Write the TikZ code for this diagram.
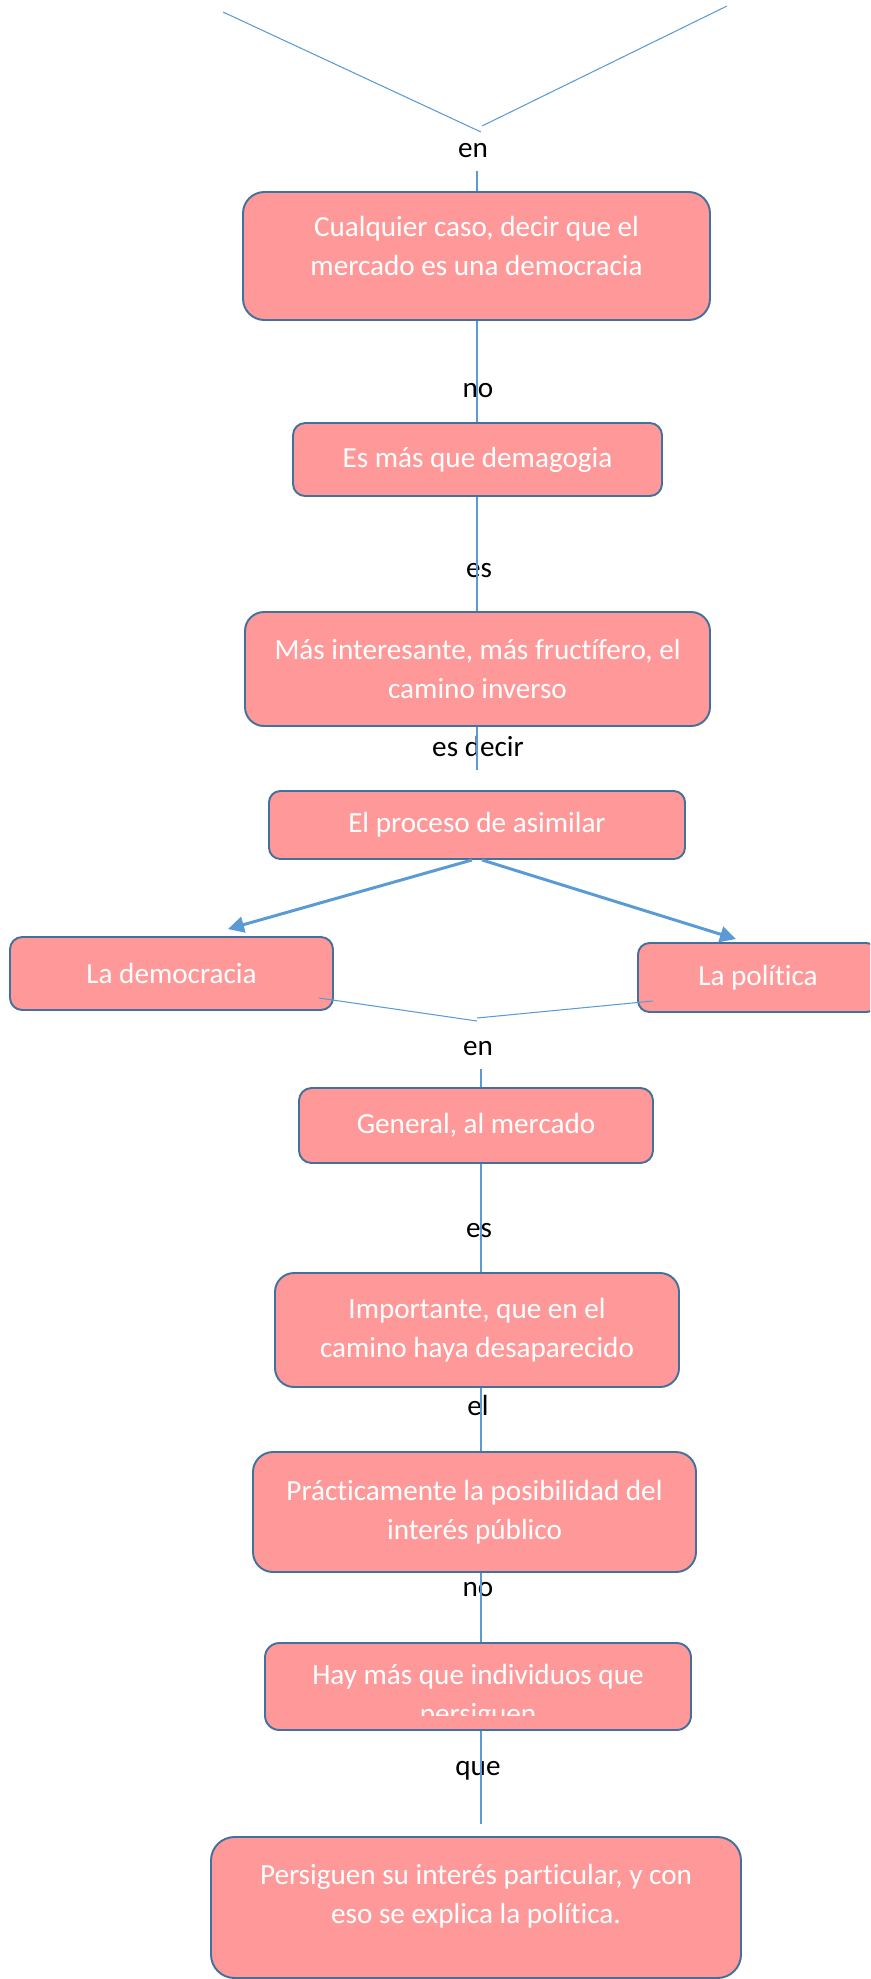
\documentclass[tikz,border=0pt]{standalone}
\usepackage{fontspec}
\setmainfont{Carlito}[Ligatures=CommonOff]
\usetikzlibrary{arrows.meta}
\definecolor{boxfill}{HTML}{FF9999}
\definecolor{boxline}{HTML}{41719C}
\definecolor{linkblue}{HTML}{5B9BD5}
\tikzset{
  box/.style 2 args={draw=boxline, line width=1.1pt, fill=boxfill, text=white,
    align=center, inner sep=0pt, minimum width=#1*0.02cm, minimum height=#2*0.02cm,
    rounded corners=#2*0.02cm/6},
  lbl/.style={anchor=base, text=black, inner xsep=0pt, inner ysep=0.28cm, text depth=0pt},
  link/.style={draw=linkblue, line width=0.6pt},
  arrowlink/.style={draw=linkblue, line width=1.7pt, -{Triangle[length=0.32cm, width=0.32cm]}}
}
\begin{document}
\begin{tikzpicture}[x=0.02cm,y=-0.02cm,font=\fontsize{16.6}{22.2}\selectfont]
\useasboundingbox (0,0) rectangle (870,1979);
\clip (0,0) rectangle (870,1979);

\coordinate (axU) at (477,0);
\coordinate (axL) at (481,0);

\coordinate (vl) at (223,12);
\coordinate (vm) at (481,132);
\coordinate (vm2) at (482,126);
\coordinate (vr) at (727,6);
\coordinate (wl) at (319,998);
\coordinate (wm) at (477,1021);
\coordinate (wm2) at (477,1018);
\coordinate (wr) at (653,1001);

\node[box={467}{128}, text depth=0.4cm] (cualquier) at (476.5,256) {Cualquier caso, decir que el\\mercado es una democracia};
\node[box={369}{73}] (esmas) at (477.5,459.5) {Es más que demagogia};
\node[box={465}{114}] (masint) at (477.5,669) {Más interesante, más fructífero, el\\camino inverso};
\node[box={416}{68}] (proceso) at (477,825) {El proceso de asimilar};
\node[box={323}{73}] (dem) at (171.5,973.5) {La democracia};
\node[box={240}{69}] (pol) at (758,977.5) {La política};
\node[box={354}{75}] (general) at (476,1125.5) {General, al mercado};
\node[box={404}{114}] (importante) at (477,1330) {Importante, que en el\\camino haya desaparecido};
\node[box={443}{120}] (practic) at (474.5,1512) {Prácticamente la posibilidad del\\interés público};
\node[box={426}{87}] (hay) at (478,1686.5) {};
\node[box={530}{141}, text depth=0.54cm] (persig) at (476,1907.5) {Persiguen su interés particular, y con\\eso se explica la política.};

% text runs out of the box
\begin{scope}
\clip (265,1643) rectangle (691,1715);
\node[text=white, align=center] (hay-t) at (478,1696) {Hay más que individuos que\\persiguen};
\end{scope}

\node[lbl] (en1) at (473,157) {en};
\node[lbl] (no1) at (478,397) {no};
\node[lbl] (es1) at (479,577) {es};
\node[lbl] (esdecir) at (478,756) {es decir};
\node[lbl] (en2) at (478,1055) {en};
\node[lbl] (es2) at (479,1237) {es};
\node[lbl] (el) at (478,1415) {el};
\node[lbl] (no2) at (478,1596) {no};
\node[lbl] (que) at (478,1775) {que};

\draw[link] (vl) -- (vm);
\draw[link] (vm2) -- (vr);
\draw[link] (en1.south -| axU) -- (cualquier.north -| axU);
\foreach \a/\b in {cualquier/esmas, esmas/masint}
  \draw[link] (\a.south -| axU) -- (\b.north -| axU);
\draw[link] (masint.south -| axU) -- (esdecir.south -| axU);

\draw[arrowlink] ([shift={(-5,0)}]proceso.south) -- ([shift={(56.5,-7)}]dem.north);
\draw[arrowlink] ([shift={(5,0)}]proceso.south) -- ([shift={(-22,-3)}]pol.north);

\draw[link] (wl) -- (wm);
\draw[link] (wm2) -- (wr);
\draw[link] (en2.south -| axL) -- (general.north -| axL);
\foreach \a/\b in {general/importante, importante/practic, practic/hay}
  \draw[link] (\a.south -| axL) -- (\b.north -| axL);
\draw[link, shorten >=0.24cm] (hay.south -| axL) -- (persig.north -| axL);
\end{tikzpicture}
\end{document}
